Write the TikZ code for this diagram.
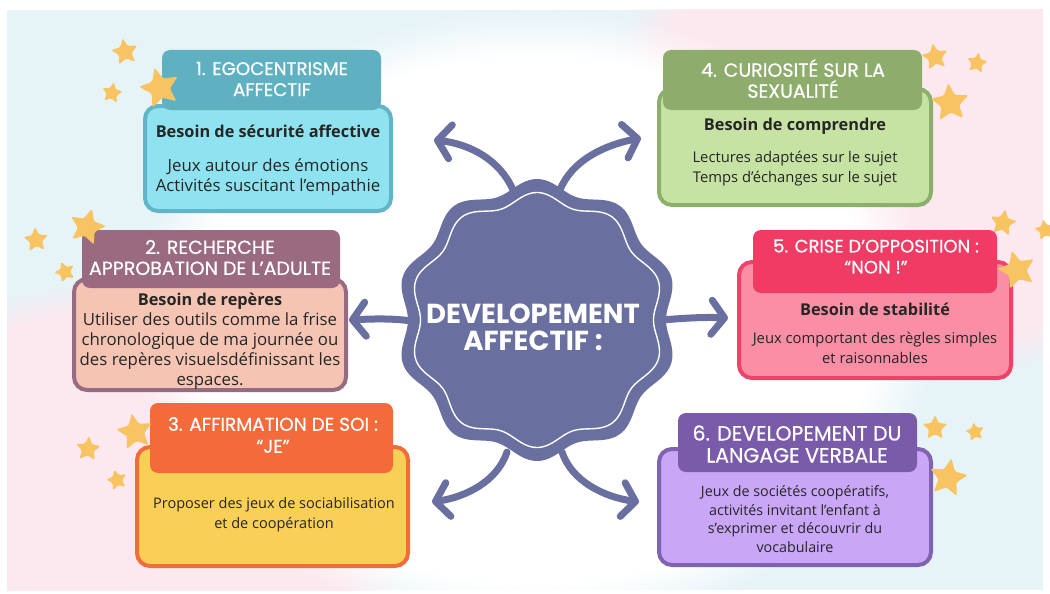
\documentclass[tikz,border=0pt]{standalone}
\usepackage{fontspec}
\setmainfont{Open Sans}
\newfontfamily\hfont{Poppins}[FakeBold=0.6]
\newfontfamily\cfont{Poppins}
\newcommand\besoin[1]{{\fontsize{16.3}{20}\selectfont\bfseries #1}}
\usetikzlibrary{arrows.meta,shapes.geometric,fadings}
\definecolor{bgblue}{HTML}{E6F4F8}
\definecolor{bgpink}{HTML}{FCE9F0}
\definecolor{badge}{HTML}{696F9F}
\definecolor{stary}{HTML}{F8C462}
\definecolor{txt}{HTML}{262626}
\definecolor{tealH}{HTML}{5FB1C2}\definecolor{tealB}{HTML}{8FE2EF}\definecolor{tealD}{HTML}{62B5C8}
\definecolor{grnH}{HTML}{8EAC6B}\definecolor{grnB}{HTML}{C6E3A3}\definecolor{grnD}{HTML}{8CB06B}
\definecolor{mauH}{HTML}{9A6A80}\definecolor{mauB}{HTML}{F6C4B3}\definecolor{mauD}{HTML}{976B82}
\definecolor{redH}{HTML}{F03B64}\definecolor{redB}{HTML}{F98EA5}\definecolor{redD}{HTML}{EF4269}
\definecolor{orgH}{HTML}{F36A3B}\definecolor{orgB}{HTML}{F9CF56}\definecolor{orgD}{HTML}{F26B3B}
\definecolor{purH}{HTML}{7A5BA9}\definecolor{purB}{HTML}{C9A6F6}\definecolor{purD}{HTML}{7F63B1}
\begin{document}
\begin{tikzpicture}[x=1pt,y=-1pt,
  bodybox/.style={draw, line width=4pt, rounded corners=13pt, inner sep=0pt},
  headbox/.style={rounded corners=8pt, inner sep=0pt},
  headtxt/.style={text=white, align=center, inner sep=0pt},
  bodytxt/.style={text=txt, align=center, inner sep=0pt, font=\fontsize{14.8}{19.5}\selectfont},
  arr/.style={draw=badge, line width=7pt, line cap=round, -{Straight Barb[round, length=13pt, width=34pt]}},
  staricon/.style={star, star points=5, star point ratio=2.1, fill=stary, inner sep=0pt, rounded corners=1.5pt}
]
\useasboundingbox (0,0) rectangle (1050,594);
\fill[white] (0,0) rectangle (1050,594);
% background panel
\begin{scope}
\clip (7,10) rectangle (1043,590);
\fill[bgblue] (7,10) rectangle (1043,590);
\fill[bgpink, path fading=circle with fuzzy edge 15 percent] (930,120) ellipse [x radius=330, y radius=260];
\fill[bgpink, path fading=circle with fuzzy edge 15 percent] (120,500) ellipse [x radius=300, y radius=220];
\fill[white, path fading=circle with fuzzy edge 15 percent] (535,320) ellipse [x radius=400, y radius=310];
\end{scope}

% arrows (drawn below the badge)
\coordinate (cen) at (537,320);
\coordinate (a1s) at (513,190); \coordinate (a1e) at (434,140);
\coordinate (a2s) at (560,190); \coordinate (a2e) at (641,138);
\coordinate (a3s) at (412,321); \coordinate (a3e) at (349,320);
\coordinate (a4s) at (662,320); \coordinate (a4e) at (728,318);
\coordinate (a5s) at (507,452); \coordinate (a5e) at (432,502);
\coordinate (a6s) at (562,452); \coordinate (a6e) at (639,502);
\draw[arr] (a1s) .. controls (500,160) and (470,144) .. (a1e);
\draw[arr] (a2s) .. controls (572,160) and (605,145) .. (a2e);
\draw[arr] (a3s) .. controls (390,318) and (370,319) .. (a3e);
\draw[arr] (a4s) .. controls (685,318) and (705,317) .. (a4e);
\draw[arr] (a5s) .. controls (497,482) and (465,497) .. (a5e);
\draw[arr] (a6s) .. controls (572,482) and (605,497) .. (a6e);

% badge
\begin{scope}[shift={(537,320)}]
\fill[badge] plot[domain=0:360, samples=361] (\x+18:{135+6*cos(10*\x)}) -- cycle;
\draw[white, line width=1.4pt] plot[domain=0:360, samples=361] (\x+18:{122+5.5*cos(10*\x)}) -- cycle;
\end{scope}
\node[text=white, align=center, font=\cfont\bfseries\fontsize{27.5}{27}\selectfont] (ctext) at (533,327) {DEVELOPEMENT\\AFFECTIF :};

% box 1
\node[bodybox, fill=tealB, draw=tealD, minimum width=246pt, minimum height=105pt] (b1) at (268,158.5) {};
\node[headbox, fill=tealH, minimum width=219pt, minimum height=60pt] (h1) at (271.5,80) {};
\node[headtxt, font=\hfont\fontsize{18.3}{21}\selectfont] (ht1) at (272,79) {1. EGOCENTRISME\\AFFECTIF};
\node[bodytxt, font=\fontsize{16.8}{20}\selectfont] (t1) at (268,160) {\besoin{Besoin de sécurité affective}\\[14pt]Jeux autour des émotions\\Activités suscitant l’empathie};

% box 4
\node[bodybox, fill=grnB, draw=grnD, minimum width=272pt, minimum height=116pt] (b4) at (795,147) {};
\node[headbox, fill=grnH, minimum width=259pt, minimum height=60pt] (h4) at (792.5,80) {};
\node[headtxt, font=\hfont\fontsize{19}{21}\selectfont] (ht4) at (793,78.5) {4. CURIOSITÉ SUR LA\\SEXUALITÉ};
\node[bodytxt] (t4) at (795,152) {\besoin{Besoin de comprendre}\\[13pt]Lectures adaptées sur le sujet\\Temps d’échanges sur le sujet};

% box 2
\node[bodybox, fill=mauB, draw=mauD, minimum width=272pt, minimum height=111pt] (b2) at (210,334.5) {};
\node[headbox, fill=mauH, minimum width=258pt, minimum height=58pt] (h2) at (211,259) {};
\node[headtxt, font=\hfont\fontsize{19}{21}\selectfont] (ht2) at (210,257.5) {2. RECHERCHE\\APPROBATION DE L’ADULTE};
\node[bodytxt, font=\fontsize{16.8}{20}\selectfont] (t2) at (210,341) {\besoin{Besoin de repères}\\Utiliser des outils comme la frise\\chronologique de ma journée ou\\des repères visuelsdéfinissant les\\espaces.};

% box 5
\node[bodybox, fill=redB, draw=redD, minimum width=272pt, minimum height=116pt] (b5) at (875,320) {};
\node[headbox, fill=redH, minimum width=244pt, minimum height=63pt] (h5) at (875,261.5) {};
\node[headtxt, font=\hfont\fontsize{18}{21}\selectfont] (ht5) at (876,256.5) {5. CRISE D’OPPOSITION :\\“NON !”};
\node[bodytxt] (t5) at (875,333) {\besoin{Besoin de stabilité}\\[9pt]Jeux comportant des règles simples\\et raisonnables};

% box 3
\node[bodybox, fill=orgB, draw=orgD, minimum width=271pt, minimum height=119pt] (b3) at (272.5,506.5) {};
\node[headbox, fill=orgH, minimum width=243pt, minimum height=70pt] (h3) at (271.5,438) {};
\node[headtxt, font=\hfont\fontsize{18.5}{22}\selectfont] (ht3) at (273,435) {3. AFFIRMATION DE SOI :\\“JE”};
\node[bodytxt, font=\fontsize{14.5}{19.5}\selectfont] (t3) at (274,514.5) {Proposer des jeux de sociabilisation\\et de coopération};

% box 6
\node[bodybox, fill=purB, draw=purD, minimum width=272pt, minimum height=116pt] (b6) at (795,507) {};
\node[headbox, fill=purH, minimum width=239pt, minimum height=59pt] (h6) at (797.5,442.5) {};
\node[headtxt, font=\hfont\fontsize{20.5}{22}\selectfont] (ht6) at (797,444) {6. DEVELOPEMENT DU\\LANGAGE VERBALE};
\node[bodytxt, font=\fontsize{14.3}{18.7}\selectfont] (t6) at (795,519) {Jeux de sociétés coopératifs,\\activités invitant l’enfant à\\s’exprimer et découvrir du\\vocabulaire};

% stars
\foreach \sx/\sy/\ss/\sr [count=\i] in {125/52/28/10, 112/93/22/-10, 160/88/42/15,
  87/227/38/-15, 36/240/26/5, 65/272/22/20,
  135/432/38/10, 88/449/26/-5, 117/480/22/15,
  935/57/28/10, 977/63/22/-10, 950/103/40/5,
  1003/223/28/-10, 1045/230/22/10, 1017/270/40/15,
  935/428/26/0, 975/432/20/10, 948/478/40/-10}
  \node[staricon, minimum size=\ss pt, rotate=\sr] (s\i) at (\sx,\sy) {};
\end{tikzpicture}
\end{document}
